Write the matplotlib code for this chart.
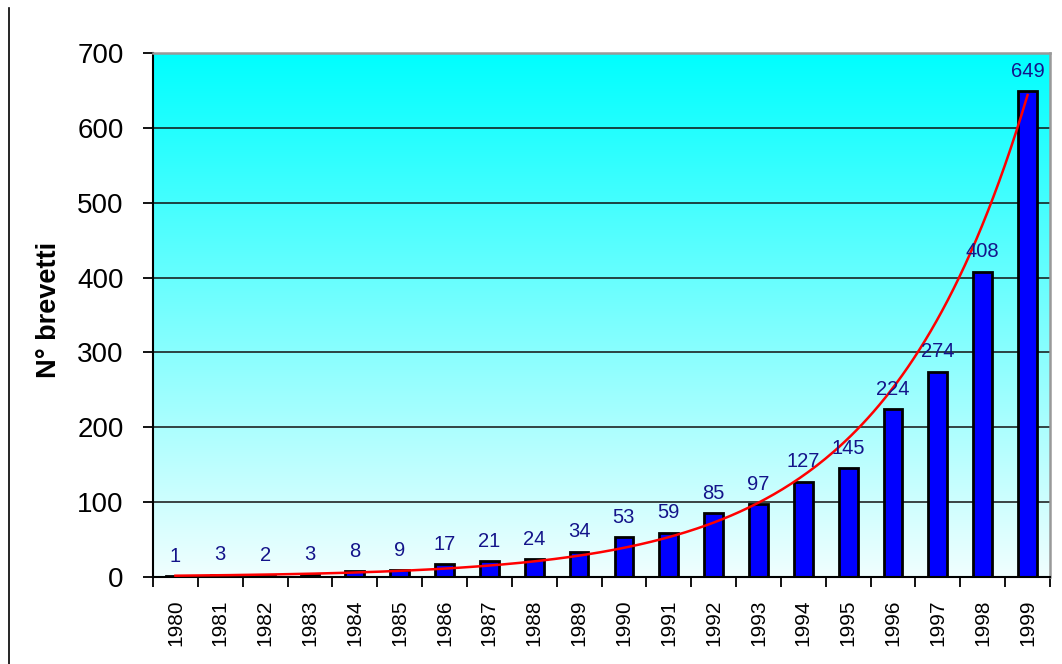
import numpy as np
import matplotlib.pyplot as plt
from matplotlib.colors import LinearSegmentedColormap
from matplotlib.lines import Line2D

plt.rcParams['font.family'] = ['Liberation Sans', 'DejaVu Sans']

# patents per year
years = ['1980', '1981', '1982', '1983', '1984', '1985', '1986', '1987', '1988', '1989',
         '1990', '1991', '1992', '1993', '1994', '1995', '1996', '1997', '1998', '1999']
brevetti = [1, 3, 2, 3, 8, 9, 17, 21, 24, 34, 53, 59, 85, 97, 127, 145, 224, 274, 408, 649]
yticks = [0, 100, 200, 300, 400, 500, 600, 700]

x = np.arange(len(years))
vals = np.array(brevetti, dtype=float)

fig = plt.figure(figsize=(10.62, 6.64), dpi=100)
ax = fig.add_axes([153 / 1062, 1 - 577 / 664, (1050 - 153) / 1062, (577 - 53) / 664])

# background gradient, cyan at top fading to pale
cmap = LinearSegmentedColormap.from_list('bg', ['#f0fefe', '#00ffff'])
grad = np.linspace(0, 1, 256).reshape(-1, 1)
ax.imshow(grad, cmap=cmap, aspect='auto', origin='lower',
          extent=[-0.5, len(years) - 0.5, 0, 700], zorder=0)

for t in yticks[1:-1]:
    ax.axhline(t, color='#111111', lw=1.1, zorder=1)

ax.bar(x, vals, width=0.42, color='#0000ff', edgecolor='black', linewidth=2.0, zorder=2)

# exponential trend line
coef = np.polyfit(x, np.log(vals), 1)
xs = np.linspace(0, len(years) - 1, 300)
ax.plot(xs, np.exp(np.polyval(coef, xs)), color='#ff0000', lw=1.8, zorder=3)

for xi, v in zip(x, brevetti):
    ax.text(xi, v + 14, str(v), ha='center', va='bottom', fontsize=14.5,
            color='#14148a', zorder=4)

ax.set_xlim(-0.5, len(years) - 0.5)
ax.set_ylim(0, 700)
ax.set_yticks(yticks)
ax.set_yticklabels([str(t) for t in yticks], fontsize=20)
ax.set_xticks(x)
ax.set_xticklabels(years, rotation=90, fontsize=15)
ax.tick_params(axis='x', length=0, pad=16)
ax.set_xticks(np.arange(-0.5, len(years)), minor=True)
ax.tick_params(axis='x', which='minor', length=7, width=1.3, direction='out')
ax.tick_params(axis='y', length=7, width=1.3, direction='out', pad=14)

ax.spines['left'].set_linewidth(1.5)
ax.spines['bottom'].set_linewidth(1.5)
ax.spines['top'].set_color('#999999')
ax.spines['right'].set_color('#999999')
ax.spines['top'].set_linewidth(1.8)
ax.spines['right'].set_linewidth(1.8)

ax.set_ylabel('N° brevetti', fontsize=19.5, fontweight='bold', labelpad=4)
ax.yaxis.set_label_coords(-0.102, 0.51)

# separator line at left edge
fig.add_artist(Line2D([9 / 1062, 9 / 1062], [0, 1 - 8 / 664], color='black', lw=1.2))

fig.savefig('out.png', dpi=100)
